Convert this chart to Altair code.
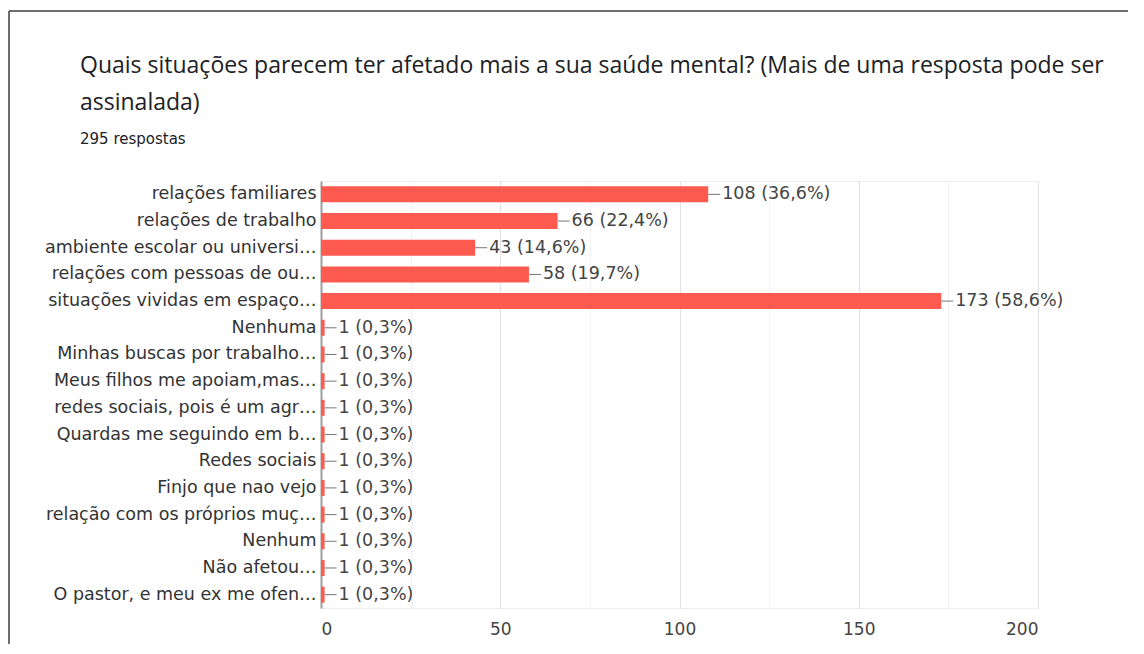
import altair as alt
import pandas as pd

categories = [
    "relações familiares",
    "relações de trabalho",
    "ambiente escolar ou universi…",
    "relações com pessoas de ou…",
    "situações vividas em espaço…",
    "Nenhuma",
    "Minhas buscas por trabalho…",
    "Meus filhos me apoiam,mas…",
    "redes sociais, pois é um agr…",
    "Quardas me seguindo em b…",
    "Redes sociais",
    "Finjo que nao vejo",
    "relação com os próprios muç…",
    "Nenhum",
    "Não afetou…",
    "O pastor, e meu ex me ofen…",
]
counts = [108, 66, 43, 58, 173, 1, 1, 1, 1, 1, 1, 1, 1, 1, 1, 1]
percents = ["36,6%", "22,4%", "14,6%", "19,7%", "58,6%", "0,3%", "0,3%", "0,3%",
            "0,3%", "0,3%", "0,3%", "0,3%", "0,3%", "0,3%", "0,3%", "0,3%"]
x_ticks = [0, 25, 50, 75, 100, 125, 150, 175, 200]

df = pd.DataFrame({
    "cat": categories,
    "n": counts,
    "label": [f"{n} ({p})" for n, p in zip(counts, percents)],
})

W, H = 717, 427
FONT = "DejaVu Sans"

y_enc = alt.Y(
    "cat:N", sort=categories, title=None,
    scale=alt.Scale(paddingInner=0.4, paddingOuter=0.2),
    axis=alt.Axis(labelFont=FONT, labelFontSize=17.5, labelColor="#333333",
                  labelPadding=5, labelLimit=400, ticks=False,
                  domainColor="#9e9e9e", domainWidth=2, grid=False),
)
x_scale = alt.Scale(domain=[0, 200], nice=False)

base = alt.Chart(df)

bars = base.mark_bar(color="#ff5a50").encode(
    x=alt.X("n:Q", scale=x_scale, title=None,
            axis=alt.Axis(values=x_ticks,
                          labelExpr="datum.value % 50 === 0 ? datum.label : ''",
                          labelFont=FONT, labelFontSize=17, labelColor="#444444",
                          labelPadding=13, ticks=False, domain=False,
                          gridColor={"condition": {"test": "datum.value % 50 === 0",
                                                   "value": "#e2e2e2"},
                                     "value": "#f0f0f0"})),
    y=y_enc,
)

connectors = base.mark_rule(color="#777777", strokeWidth=1, x2Offset=12).encode(
    x=alt.X("n:Q", scale=x_scale),
    x2="n:Q",
    y=alt.Y("cat:N", sort=categories, bandPosition=0.5),
)

texts = base.mark_text(align="left", baseline="middle", dx=14, font=FONT,
                       fontSize=17.5, color="#444444").encode(
    x=alt.X("n:Q", scale=x_scale),
    y=alt.Y("cat:N", sort=categories),
    text="label:N",
)

frame_df = pd.DataFrame({"a": [0]})
frame_v = alt.Chart(frame_df).mark_rule(color="#3c3c3c", strokeWidth=1.5).encode(
    x=alt.value(-312), y=alt.value(-170), y2=alt.value(H + 60),
)
frame_h = alt.Chart(frame_df).mark_rule(color="#3c3c3c", strokeWidth=1.5).encode(
    x=alt.value(-312), x2=alt.value(W + 110), y=alt.value(-170),
)

chart = alt.layer(bars, connectors, texts, frame_v, frame_h).properties(
    width=W, height=H,
    autosize=alt.AutoSizeParams(type="none"),
    padding={"left": 313, "top": 173, "right": 90, "bottom": 36},
    title=alt.TitleParams(
        text=["Quais situações parecem ter afetado mais a sua saúde mental? (Mais de uma resposta pode ser",
              "assinalada)"],
        subtitle="295 respostas",
        anchor="start", frame="group", dx=-241, offset=-137,
        font="Open Sans", fontSize=23, fontWeight="normal", color="#202124",
        lineHeight=37, subtitleFont=FONT, subtitleFontSize=15,
        subtitleColor="#202124", subtitlePadding=17,
    ),
).configure_view(stroke="#eeeeee")

chart.save("out.html", embed_options={"renderer": "svg", "actions": False})
